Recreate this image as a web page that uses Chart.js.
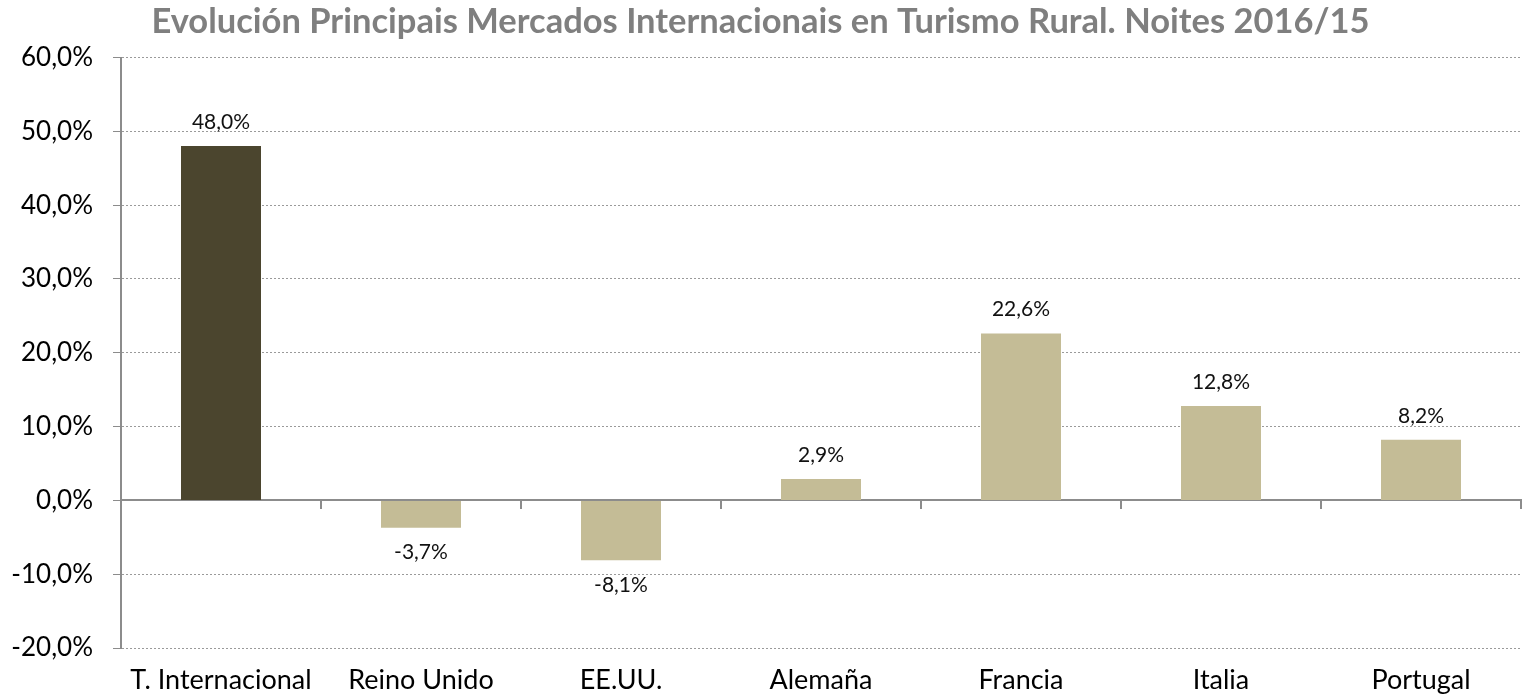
<!DOCTYPE html>
<html>
<head>
<meta charset="utf-8">
<script src="https://cdn.jsdelivr.net/npm/chart.js@4/dist/chart.umd.min.js"></script>
<style>
html,body{margin:0;padding:0;background:#fff;}
#wrap{width:1522px;height:700px;}
</style>
</head>
<body>
<div id="wrap"><canvas id="c" width="1522" height="700"></canvas></div>
<script>
const categories = ['T. Internacional','Reino Unido','EE.UU.','Alemaña','Francia','Italia','Portugal'];
const values = [48.0, -3.7, -8.1, 2.9, 22.6, 12.8, 8.2];
const barColors = ['#4B452E','#C4BC96','#C4BC96','#C4BC96','#C4BC96','#C4BC96','#C4BC96'];
const titleText = 'Evolución Principais Mercados Internacionais en Turismo Rural. Noites 2016/15';
const yMin = -20, yMax = 60, yStep = 10;

const fmt = v => v.toFixed(1).replace('.', ',') + '%';
const FONT = 'Lato, "Liberation Sans", sans-serif';

const labelPlugin = {
  id: 'barLabels',
  afterDatasetsDraw(chart) {
    const ctx = chart.ctx;
    const meta = chart.getDatasetMeta(0);
    ctx.save();
    ctx.font = '21px ' + FONT;
    ctx.fillStyle = '#111';
    ctx.textAlign = 'center';
    ctx.textBaseline = 'middle';
    meta.data.forEach((bar, i) => {
      const v = values[i];
      const y = v >= 0 ? bar.y - 24 : bar.y + 25;
      ctx.fillText(fmt(v), bar.x, y);
    });
    ctx.restore();
  }
};

new Chart(document.getElementById('c'), {
  type: 'bar',
  data: {
    labels: categories,
    datasets: [{
      data: values,
      backgroundColor: barColors,
      borderWidth: 0,
      barPercentage: 0.4,
      categoryPercentage: 1.0,
      xAxisID: 'x',
      yAxisID: 'y'
    }]
  },
  options: {
    responsive: false,
    animation: false,
    layout: { padding: { left: 0, right: 1, top: 0, bottom: 0 } },
    plugins: {
      legend: { display: false },
      tooltip: { enabled: false },
      title: {
        display: true,
        text: titleText,
        color: '#7F7F7F',
        font: { family: FONT, size: 34.5, weight: 'bold', lineHeight: 1.0 },
        padding: { top: 5, bottom: 18 }
      }
    },
    scales: {
      x: {
        type: 'category',
        position: 'bottom',
        afterFit(scale) { scale.height = 52; },
        grid: { display: false, drawTicks: false },
        border: { display: false },
        ticks: { color: '#000', font: { family: FONT, size: 27, lineHeight: 1.0 }, padding: 19, maxRotation: 0, autoSkip: false }
      },
      x2: {
        type: 'category',
        labels: categories,
        position: { y: 0 },
        offset: true,
        grid: { display: true, drawOnChartArea: false, drawTicks: true, tickLength: 8, color: '#8C8C8C', tickColor: '#8C8C8C', lineWidth: 2, offset: true },
        border: { display: true, color: '#8C8C8C', width: 2 },
        ticks: { display: false }
      },
      y: {
        min: yMin,
        max: yMax,
        afterFit(scale) { scale.width = 121; },
        ticks: {
          stepSize: yStep,
          color: '#000',
          font: { family: FONT, size: 26 },
          padding: 20,
          callback: v => fmt(v)
        },
        grid: {
          color: ctx => ctx.tick && ctx.tick.value === 0 ? 'rgba(0,0,0,0)' : '#9A9A9A',
          tickColor: '#8C8C8C',
          lineWidth: 1,
          tickLength: 8,
          drawTicks: true
        },
        border: { display: true, color: '#8C8C8C', width: 2, dash: [2, 2] }
      }
    }
  },
  plugins: [labelPlugin]
});
</script>
</body>
</html>
